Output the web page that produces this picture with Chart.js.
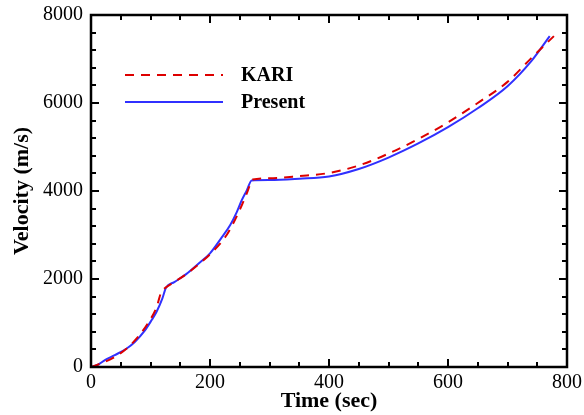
<!DOCTYPE html>
<html>
<head>
<meta charset="utf-8">
<script src="https://cdn.jsdelivr.net/npm/chart.js@4.4.1/dist/chart.umd.min.js"></script>
<style>
  html, body { margin: 0; padding: 0; background: #fff; }
  #wrap { width: 584px; height: 415px; }
</style>
</head>
<body>
<div id="wrap"><canvas id="velocityChart"></canvas></div>
<script>
// data
var timeKari = [0, 20, 40, 60, 80, 96, 110, 118, 124, 140, 160, 183, 200, 228, 250, 262, 272, 300, 350, 400, 450, 500, 550, 600, 650, 700, 740, 778];
var velKari  = [0, 100, 230, 420, 700, 1000, 1350, 1700, 1790, 1930, 2110, 2356, 2560, 3000, 3570, 3950, 4260, 4290, 4340, 4410, 4580, 4850, 5180, 5560, 6000, 6480, 7020, 7520];

var timePresent = [0, 10, 24, 40, 60, 74, 90, 102, 110, 120, 126, 140, 160, 180, 200, 220, 234, 245, 253, 262, 270, 300, 350, 400, 450, 500, 550, 600, 650, 700, 740, 771];
var velPresent  = [0, 40, 160, 270, 420, 575, 820, 1068, 1250, 1560, 1800, 1930, 2110, 2340, 2583, 2950, 3227, 3520, 3780, 4020, 4240, 4250, 4280, 4330, 4500, 4760, 5080, 5450, 5880, 6380, 6950, 7520];

var xTicks = [0, 200, 400, 600, 800];
var yTicks = [0, 2000, 4000, 6000, 8000];

function toPoints(xs, ys) {
  return xs.map(function (x, i) { return { x: x, y: ys[i] }; });
}

// inward major/minor ticks on all four sides, plus the frame
var frameTicks = {
  id: 'frameTicks',
  afterDraw: function (chart) {
    var ctx = chart.ctx;
    var a = chart.chartArea;
    var sx = chart.scales.x, sy = chart.scales.y;
    ctx.save();
    ctx.strokeStyle = '#000';
    ctx.lineWidth = 2;
    var v, p, len;
    for (v = 0; v <= 800; v += 50) {
      p = Math.round(sx.getPixelForValue(v));
      len = (v % 200 === 0) ? 8 : 5;
      ctx.beginPath();
      ctx.moveTo(p, a.bottom); ctx.lineTo(p, a.bottom - len);
      ctx.moveTo(p, a.top); ctx.lineTo(p, a.top + len);
      ctx.stroke();
    }
    for (v = 0; v <= 8000; v += 400) {
      p = Math.round(sy.getPixelForValue(v));
      len = (v % 2000 === 0) ? 8 : 5;
      ctx.beginPath();
      ctx.moveTo(a.left, p); ctx.lineTo(a.left + len, p);
      ctx.moveTo(a.right, p); ctx.lineTo(a.right - len, p);
      ctx.stroke();
    }
    ctx.lineWidth = 2.5;
    ctx.strokeRect(a.left, a.top, a.right - a.left, a.bottom - a.top);
    ctx.restore();
  }
};

// legend drawn inside the plot area
var insideLegend = {
  id: 'insideLegend',
  afterDraw: function (chart) {
    var ctx = chart.ctx;
    var a = chart.chartArea;
    ctx.save();
    chart.data.datasets.forEach(function (ds, i) {
      var y = a.top + 60 + i * 27;
      ctx.strokeStyle = ds.borderColor;
      ctx.lineWidth = ds.borderWidth;
      ctx.setLineDash(ds.borderDash || []);
      ctx.beginPath();
      ctx.moveTo(a.left + 34, y);
      ctx.lineTo(a.left + 132, y);
      ctx.stroke();
      ctx.setLineDash([]);
      ctx.fillStyle = '#000';
      ctx.font = 'bold 20px "Liberation Serif"';
      ctx.textBaseline = 'middle';
      ctx.fillText(ds.label, a.left + 150, y + 1);
    });
    ctx.restore();
  }
};

var chart = new Chart(document.getElementById('velocityChart'), {
  type: 'line',
  data: {
    datasets: [
      {
        label: 'KARI',
        data: toPoints(timeKari, velKari),
        borderColor: '#dd0000',
        borderWidth: 2,
        borderDash: [9, 7],
        pointRadius: 0,
        cubicInterpolationMode: 'monotone',
        fill: false
      },
      {
        label: 'Present',
        data: toPoints(timePresent, velPresent),
        borderColor: '#3030ff',
        borderWidth: 2,
        pointRadius: 0,
        cubicInterpolationMode: 'monotone',
        fill: false
      }
    ]
  },
  options: {
    responsive: true,
    maintainAspectRatio: false,
    animation: false,
    layout: { padding: { left: 0, top: 15, right: 17, bottom: 0 } },
    plugins: {
      legend: { display: false },
      tooltip: { enabled: false }
    },
    scales: {
      x: {
        type: 'linear',
        min: 0,
        max: 800,
        afterBuildTicks: function (s) { s.ticks = xTicks.map(function (v) { return { value: v }; }); },
        afterFit: function (s) { s.height = 48; s.paddingLeft = 0; s.paddingRight = 0; },
        grid: { display: false, drawTicks: false },
        border: { display: false },
        ticks: {
          color: '#000',
          padding: 4,
          maxRotation: 0,
          callback: function (v) { return String(v); },
          font: { family: 'Liberation Serif', size: 20 }
        },
        title: {
          display: true,
          text: 'Time (sec)',
          color: '#000',
          padding: { top: 0, bottom: 0 },
          font: { family: 'Liberation Serif', size: 22, weight: 'bold' }
        }
      },
      y: {
        min: 0,
        max: 8000,
        afterBuildTicks: function (s) { s.ticks = yTicks.map(function (v) { return { value: v }; }); },
        afterFit: function (s) { s.width = 91; s.paddingTop = 0; s.paddingBottom = 0; },
        grid: { display: false, drawTicks: false },
        border: { display: false },
        ticks: {
          color: '#000',
          padding: 8,
          callback: function (v) { return String(v); },
          font: { family: 'Liberation Serif', size: 20 }
        },
        title: {
          display: true,
          text: 'Velocity (m/s)',
          color: '#000',
          padding: { top: 9, bottom: 0 },
          font: { family: 'Liberation Serif', size: 22, weight: 'bold' }
        }
      }
    }
  },
  plugins: [frameTicks, insideLegend]
});
</script>
</body>
</html>
